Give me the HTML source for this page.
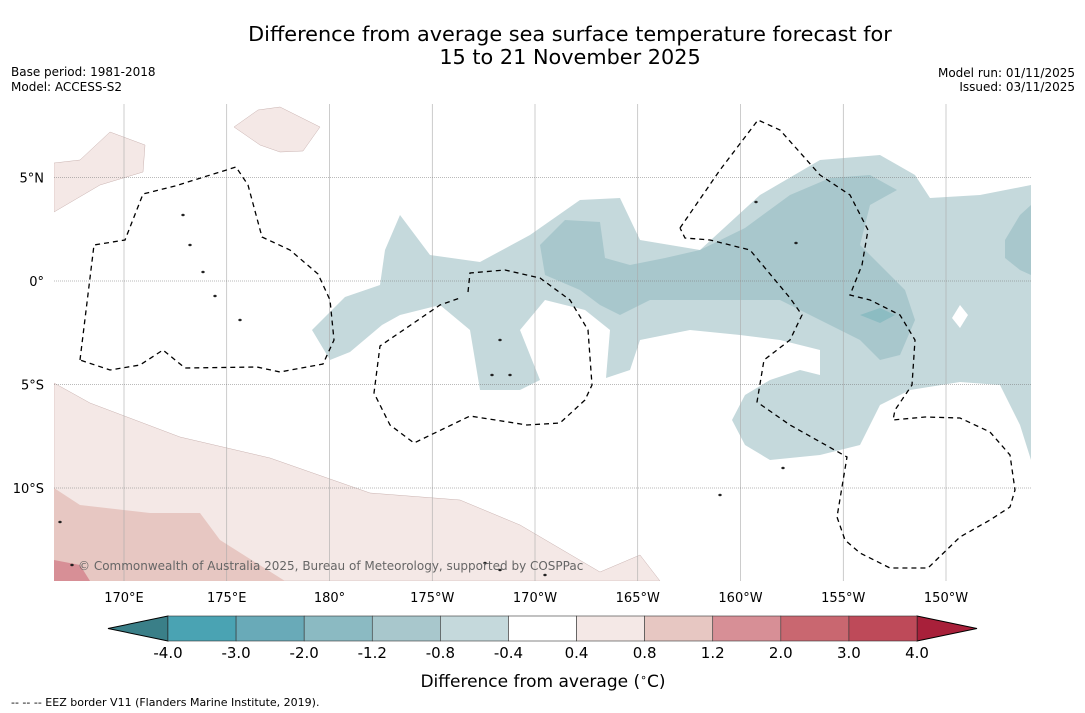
<!DOCTYPE html>
<html><head><meta charset="utf-8"><style>
body{margin:0;background:#fff;width:1085px;height:713px;overflow:hidden;font-family:"DejaVu Sans","Liberation Sans",sans-serif}
svg{position:absolute;left:0;top:0}
</style></head><body>
<svg id="s" width="1085" height="713" xmlns="http://www.w3.org/2000/svg" font-family="DejaVu Sans, Liberation Sans, sans-serif">
<text x="570" y="41" font-size="20.8" text-anchor="middle">Difference from average sea surface temperature forecast for</text>
<text x="570" y="64" font-size="20.8" text-anchor="middle">15 to 21 November 2025</text>
<text x="11" y="76" font-size="12">Base period: 1981-2018</text>
<text x="11" y="91" font-size="12">Model: ACCESS-S2</text>
<text x="1075" y="77" font-size="12" text-anchor="end">Model run: 01/11/2025</text>
<text x="1075" y="91" font-size="12" text-anchor="end">Issued: 03/11/2025</text>
<g>
<clipPath id="c"><rect x="54" y="104" width="977" height="477"/></clipPath>
<g clip-path="url(#c)">
<polygon fill="#f4e8e6" stroke="#c9b2b0" stroke-width="0.5" points="54,383 90,403 180,437 270,458 370,493 460,500 520,525 600,572 640,555 660,581 54,581"/>
<polygon fill="#f4e8e6" stroke="#c9b2b0" stroke-width="0.5" points="54,163 80,160 110,132 145,145 143,172 100,185 54,212"/>
<polygon fill="#f4e8e6" stroke="#c9b2b0" stroke-width="0.5" points="234,127 258,110 280,107 320,127 303,151 280,152 260,145"/>
<polygon fill="#e7c7c2" points="54,488 80,505 150,513 200,513 220,540 285,581 54,581"/>
<polygon fill="#d78f96" points="54,560 80,565 90,581 54,581"/>
<polygon fill="#c5d9dc" points="312,330 345,297 380,285 385,250 400,215 430,255 480,262 530,235 580,200 620,198 640,240 700,250 760,195 820,160 880,155 915,175 930,198 980,195 1031,185 1031,460 1020,425 1000,385 960,382 910,390 880,405 860,445 820,455 770,460 745,445 732,420 745,395 770,380 800,370 820,375 820,350 780,340 740,335 690,330 640,340 630,370 606,378 610,330 585,310 545,300 520,330 540,380 520,390 480,390 470,330 440,305 400,315 382,325 350,352 330,360"/>
<polygon fill="#a8c7cc" points="540,245 565,220 600,222 605,258 630,265 665,258 700,250 745,228 790,195 830,178 870,175 897,190 870,205 860,245 880,265 905,290 915,320 900,355 880,360 860,340 820,320 780,300 730,300 690,300 650,300 620,315 600,305 580,290 545,275"/>
<polygon fill="#a8c7cc" points="1005,240 1020,215 1031,205 1031,275 1020,270 1005,258"/>
<polygon fill="#8cbcc2" points="860,315 880,308 895,315 880,323"/>
<polygon fill="#fff" points="952,318 960,305 968,315 960,328"/>
</g>
<g id="grid" stroke-width="0.6"></g>
<g fill="none" stroke="#000" stroke-width="1.3" stroke-dasharray="5,4">
<polyline points="80,360 94,245 125,240 143,194 175,186 236,167 248,185 262,237 290,250 318,274 330,300 334,340 323,364 280,372 257,367 185,368 163,350 140,365 110,370 80,360"/>
<polyline points="468,292 470,273 505,270 540,278 570,300 588,330 592,385 585,400 560,423 527,425 470,416 414,443 390,425 374,393 380,346 440,305 460,298"/>
<polyline points="680,228 720,170 758,120 780,130 820,175 850,195 868,230 862,265 850,295 870,300 900,315 915,340 912,385 895,410 893,420 925,417 960,418 990,432 1010,455 1015,490 1010,507 990,520 960,537 928,568 890,568 860,553 845,540 837,517 847,457 790,425 757,402 764,360 790,340 802,315 790,298 750,250 710,240 685,238 680,228"/>
</g>
<g id="islands" fill="#333" stroke="#000" stroke-width="0.5"></g>
</g>
<text x="78" y="570" font-size="12" fill="#666">© Commonwealth of Australia 2025, Bureau of Meteorology, supported by COSPPac</text>
<g id="lonlabels" font-size="13"></g>
<g id="latlabels" font-size="13"></g>
<g id="cbar"></g>
<text x="543" y="687" font-size="17" text-anchor="middle">Difference from average (<tspan font-size="11" dy="-6">∘</tspan><tspan dy="6">C)</tspan></text>
<text x="11" y="706" font-size="11">--  --  -- EEZ border V11 (Flanders Marine Institute, 2019).</text>
</svg>
<script>
const NS="http://www.w3.org/2000/svg";
const lonLabels=["170°E","175°E","180°","175°W","170°W","165°W","160°W","155°W","150°W"];
const lonValues=[170,175,180,185,190,195,200,205,210];
const latLabels=["5°N","0°","5°S","10°S"];
const latValues=[5,0,-5,-10];
const cbBounds=["-4.0","-3.0","-2.0","-1.2","-0.8","-0.4","0.4","0.8","1.2","2.0","3.0","4.0"];
const cbColors=["#4aa3b3","#69aab8","#8bbac2","#a8c7cc","#c5d9dc","#ffffff","#f4e8e6","#e7c7c2","#d78f96","#c96770","#be4a59"];
const xs=lon=>124+(lon-170)*20.55;
const ys=lat=>281-lat*20.7;
function mk(t,a,p){const e=document.createElementNS(NS,t);for(const k in a)e.setAttribute(k,a[k]);p.appendChild(e);return e;}
const grid=document.getElementById('grid'),ll=document.getElementById('lonlabels'),la=document.getElementById('latlabels');
lonValues.forEach((v,i)=>{const l=mk('line',{x1:xs(v),x2:xs(v),y1:104,y2:581,stroke:'#aaa'},grid);


const t=mk('text',{x:xs(v),y:602,'text-anchor':'middle'},ll);t.textContent=lonLabels[i];

});
latValues.forEach((v,i)=>{const l=mk('line',{x1:54,x2:1031,y1:ys(v),y2:ys(v),stroke:'#777','stroke-dasharray':'1,1'},grid);


const t=mk('text',{x:44,y:ys(v)+5,'text-anchor':'end'},la);t.textContent=latLabels[i];

});
const isl=document.getElementById('islands');
[[183,215],[190,245],[203,272],[215,296],[240,320],[500,340],[492,375],[510,375],[485,563],[500,570],[545,575],[720,495],[783,468],[796,243],[756,202],[60,522],[72,565]].forEach(p=>{const e=mk('ellipse',{cx:p[0],cy:p[1],rx:1.5,ry:1},isl);

});
const cb=document.getElementById('cbar');const x0=168,x1=917,w=(x1-x0)/cbColors.length,y0=616,h=25;
const lt=mk('polygon',{points:`108,${y0+h/2} ${x0},${y0} ${x0},${y0+h}`,fill:'#3a7f88',stroke:'#000','stroke-width':1},cb);


const rt=mk('polygon',{points:`977,${y0+h/2} ${x1},${y0} ${x1},${y0+h}`,fill:'#a8203a',stroke:'#000','stroke-width':1},cb);


cbColors.forEach((c,i)=>{const r=mk('rect',{x:x0+i*w,y:y0,width:w,height:h,fill:c,stroke:'#333','stroke-width':0.6},cb);

});
cbBounds.forEach((b,i)=>{const t=mk('text',{x:x0+i*w,y:658,'text-anchor':'middle','font-size':15},cb);t.textContent=b;

});
</script>
</body></html>
